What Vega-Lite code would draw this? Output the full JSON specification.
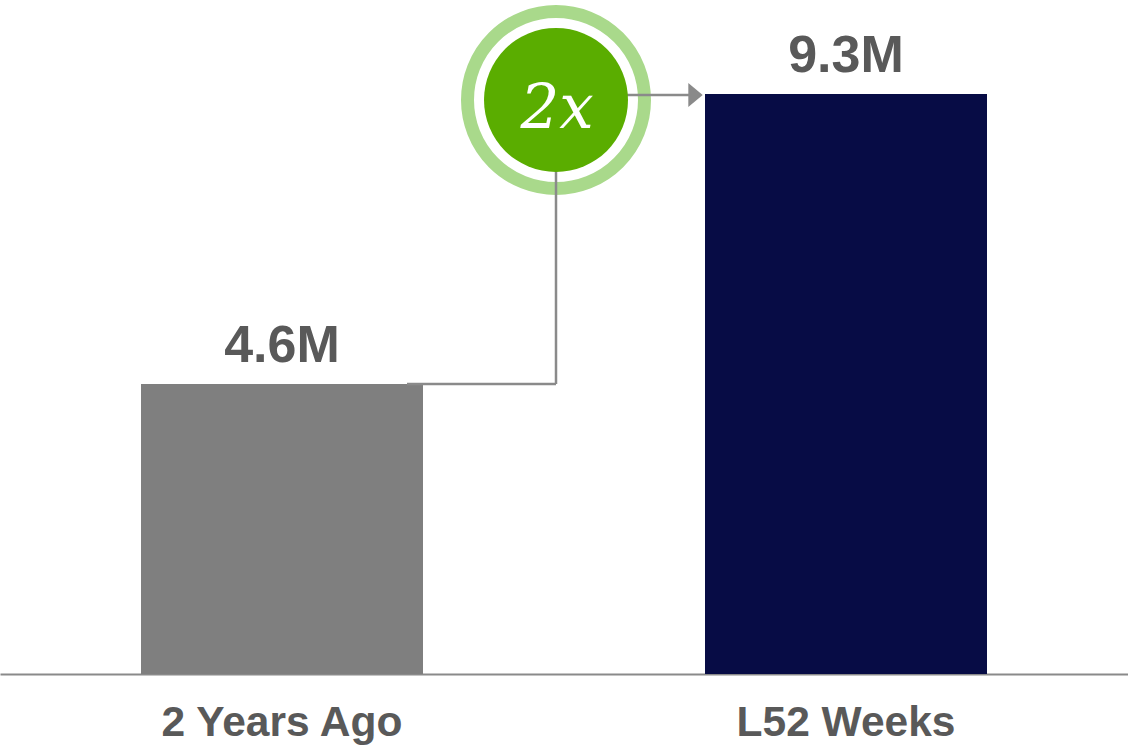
{
  "$schema": "https://vega.github.io/schema/vega-lite/v6.json",
  "width": 1128,
  "height": 674,
  "autosize": {"type": "none"},
  "padding": {"left": 0, "top": 0, "right": 0, "bottom": 76},
  "background": "white",
  "datasets": {
    "bars": [
      {"period": "2 Years Ago", "value": 4.65, "label": "4.6M"},
      {"period": "L52 Weeks", "value": 9.3, "label": "9.3M"}
    ],
    "growth": [
      {"from": "2 Years Ago", "to": "L52 Weeks", "fromValue": 4.65, "toValue": 9.3, "ratio": "2x"}
    ]
  },
  "layer": [
    {
      "data": {"name": "bars"},
      "mark": {"type": "bar"},
      "encoding": {
        "x": {"field": "period", "type": "nominal", "sort": null, "title": null,
              "scale": {"paddingInner": 0.5, "paddingOuter": 0.25}},
        "y": {"field": "value", "type": "quantitative", "axis": null,
              "scale": {"domain": [0, 10.807], "nice": false}},
        "color": {"field": "period", "type": "nominal", "legend": null,
                  "scale": {"domain": ["2 Years Ago", "L52 Weeks"], "range": ["#7f7f7f", "#070c45"]}}
      }
    },
    {
      "data": {"name": "bars"},
      "mark": {"type": "text", "font": "Liberation Sans", "fontWeight": "bold", "fontSize": 52,
               "color": "#595959", "baseline": "alphabetic", "align": "center", "dy": -22},
      "encoding": {
        "x": {"field": "period", "type": "nominal", "sort": null, "title": null},
        "y": {"field": "value", "type": "quantitative", "axis": null},
        "text": {"field": "label"}
      }
    },
    {
      "data": {"name": "growth"},
      "mark": {"type": "point", "filled": false, "stroke": "#a9d98b", "strokeWidth": 13,
               "size": 31329, "shape": "circle", "opacity": 1, "xOffset": -149, "yOffset": 6},
      "encoding": {
        "x": {"field": "to", "type": "nominal", "bandPosition": 0, "title": null},
        "y": {"field": "toValue", "type": "quantitative", "axis": null}
      }
    },
    {
      "data": {"name": "growth"},
      "mark": {"type": "rule", "color": "#8a8a8a", "strokeWidth": 2.5, "xOffset": -16, "x2Offset": -149},
      "encoding": {
        "x": {"field": "from", "type": "nominal", "bandPosition": 1, "title": null},
        "x2": {"field": "to", "bandPosition": 0},
        "y": {"field": "fromValue", "type": "quantitative", "axis": null}
      }
    },
    {
      "data": {"name": "growth"},
      "mark": {"type": "rule", "color": "#8a8a8a", "strokeWidth": 2.5, "xOffset": -149, "y2Offset": 6},
      "encoding": {
        "x": {"field": "to", "type": "nominal", "bandPosition": 0, "title": null},
        "y": {"field": "fromValue", "type": "quantitative", "axis": null},
        "y2": {"field": "toValue"}
      }
    },
    {
      "data": {"name": "growth"},
      "mark": {"type": "rule", "color": "#8a8a8a", "strokeWidth": 2.5, "xOffset": -149, "x2Offset": -16, "yOffset": 1},
      "encoding": {
        "x": {"field": "to", "type": "nominal", "bandPosition": 0, "title": null},
        "x2": {"field": "to", "bandPosition": 0},
        "y": {"field": "toValue", "type": "quantitative", "axis": null}
      }
    },
    {
      "data": {"name": "growth"},
      "mark": {"type": "point", "filled": true, "color": "#8a8a8a", "opacity": 1, "strokeWidth": 0,
               "shape": "M-0.6,-1L0.6,0L-0.6,1Z", "size": 576, "xOffset": -9.5, "yOffset": 1},
      "encoding": {
        "x": {"field": "to", "type": "nominal", "bandPosition": 0, "title": null},
        "y": {"field": "toValue", "type": "quantitative", "axis": null}
      }
    },
    {
      "data": {"name": "growth"},
      "mark": {"type": "point", "filled": true, "color": "#5aad00", "opacity": 1, "strokeWidth": 0,
               "shape": "circle", "size": 20736, "xOffset": -149, "yOffset": 6},
      "encoding": {
        "x": {"field": "to", "type": "nominal", "bandPosition": 0, "title": null},
        "y": {"field": "toValue", "type": "quantitative", "axis": null}
      }
    },
    {
      "data": {"name": "growth"},
      "mark": {"type": "text", "font": "DejaVu Serif", "fontStyle": "italic", "fontSize": 61,
               "color": "white", "align": "center", "baseline": "alphabetic", "xOffset": -148, "yOffset": 34},
      "encoding": {
        "x": {"field": "to", "type": "nominal", "bandPosition": 0, "title": null},
        "y": {"field": "toValue", "type": "quantitative", "axis": null},
        "text": {"field": "ratio"}
      }
    }
  ],
  "config": {
    "view": {"stroke": null},
    "axisX": {
      "domainColor": "#8a8a8a",
      "domainWidth": 2,
      "ticks": false,
      "tickSize": 0,
      "grid": false,
      "labelPadding": 61,
      "labelLimit": 0,
      "labelBaseline": "alphabetic",
      "labelAngle": 0,
      "labelFont": "Liberation Sans",
      "labelFontWeight": "bold",
      "labelFontSize": 42.5,
      "labelColor": "#595959"
    }
  }
}
